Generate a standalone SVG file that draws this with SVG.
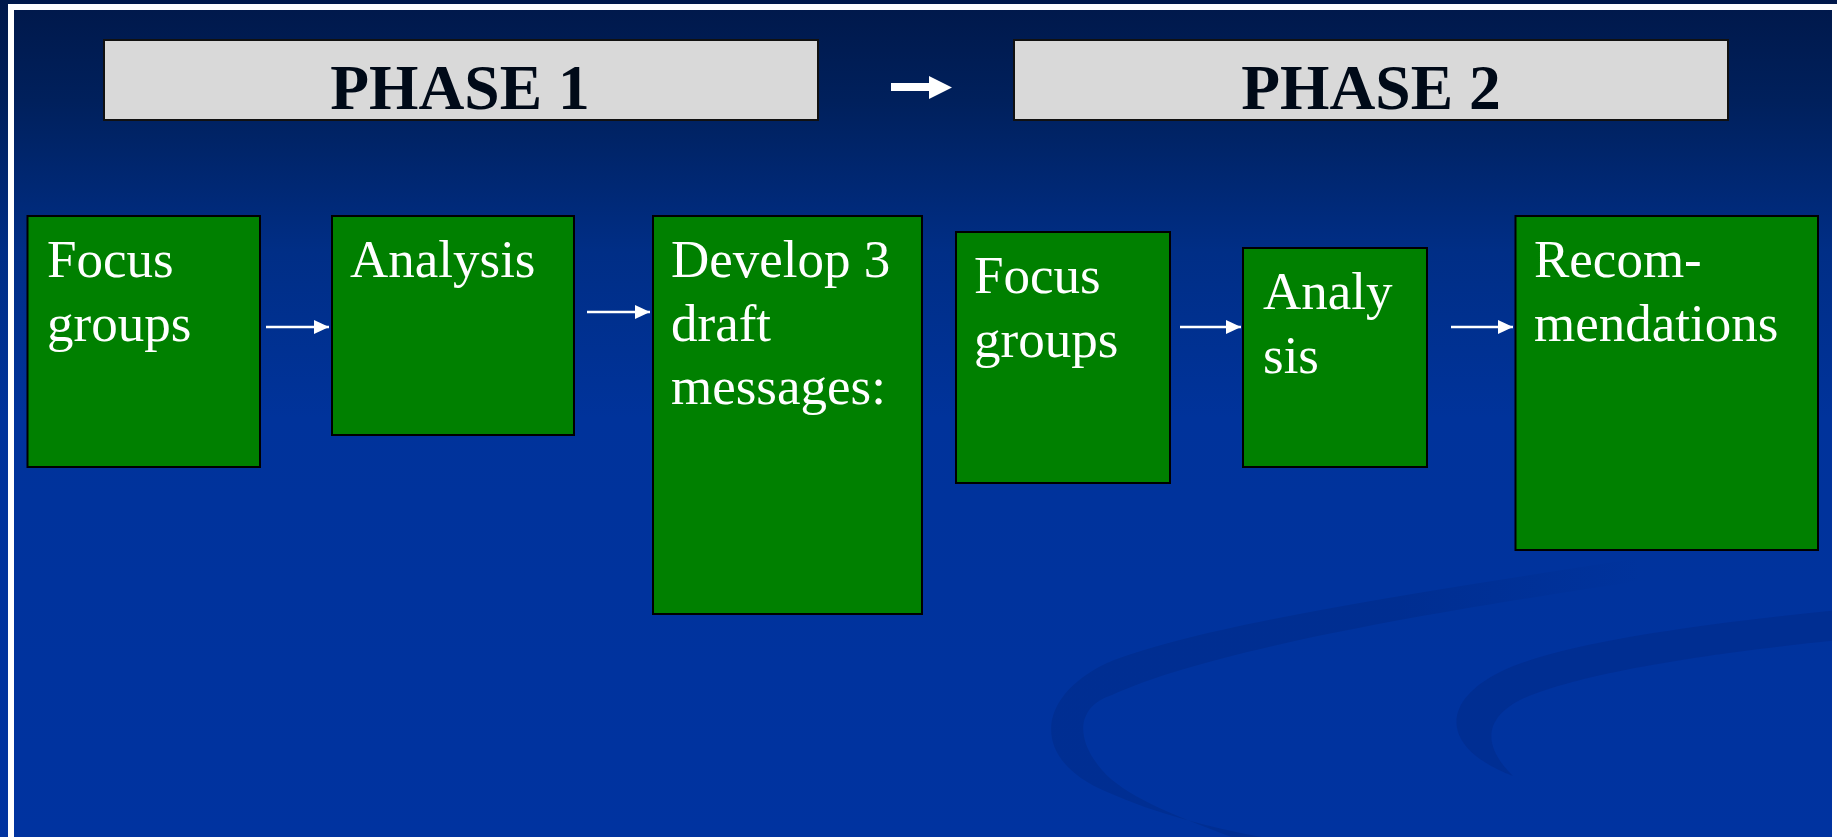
<svg xmlns="http://www.w3.org/2000/svg" width="1837" height="837" viewBox="0 0 1837 837">
<defs>
<linearGradient id="bg" x1="0" y1="0" x2="0" y2="1">
<stop offset="0" stop-color="#00184a"/>
<stop offset="0.12" stop-color="#00205c"/>
<stop offset="0.3" stop-color="#002e86"/>
<stop offset="0.5" stop-color="#00339b"/>
<stop offset="1" stop-color="#0033a0"/>
</linearGradient>
<linearGradient id="sw1" gradientUnits="userSpaceOnUse" x1="1400" y1="0" x2="1640" y2="0">
<stop offset="0" stop-color="#002a88" stop-opacity="0.55"/>
<stop offset="1" stop-color="#002a88" stop-opacity="0"/>
</linearGradient>
<marker id="ah" markerUnits="userSpaceOnUse" markerWidth="16" markerHeight="15" refX="15" refY="7" orient="auto">
<path d="M0,0 L15,7 L0,14 Z" fill="#ffffff"/>
</marker>
<style>
.phase rect{fill:#d9d9d9;stroke:#111111;stroke-width:2}
.phase text{font-family:"Liberation Serif","Times New Roman",serif;font-weight:bold;font-size:63.5px;fill:#000a18;text-anchor:middle}
.node rect{fill:#008000;stroke:#000000;stroke-width:2}
.node text{font-family:"Liberation Serif","Times New Roman",serif;font-size:53px;fill:#ffffff}
.conn line{stroke:#ffffff;stroke-width:2.5;marker-end:url(#ah)}
.swoosh{fill:#002a88;opacity:0.55}
</style>
</defs>
<rect x="0" y="0" width="1837" height="837" fill="url(#bg)"/>
<path fill="url(#sw1)" d="M1660,555 C1420,592 1200,625 1107,663 C1035,697 1030,760 1107,792 C1165,818 1230,832 1290,842 L1245,842 C1180,818 1125,797 1102,770 C1072,735 1080,705 1112,695 C1210,650 1430,612 1660,578 Z"/>
<path class="swoosh" d="M1840,610 C1700,624 1560,643 1500,672 C1440,702 1440,748 1513,776 C1488,752 1478,722 1520,700 C1580,672 1720,652 1840,640 Z"/>
<rect x="11" y="7" width="1824" height="850" fill="none" stroke="#ffffff" stroke-width="6"/>
<g id="phase1" class="phase">
<rect x="104" y="40" width="714" height="80"/>
<text x="460" y="109">PHASE 1</text>
</g>
<g id="phase2" class="phase">
<rect x="1014" y="40" width="714" height="80"/>
<text x="1371" y="109">PHASE 2</text>
</g>
<g id="n1" class="node">
<rect x="27.5" y="216" width="232.5" height="251"/>
<text x="47" y="277">Focus</text>
<text x="47" y="340.5">groups</text>
</g>
<g id="n2" class="node">
<rect x="332" y="216" width="242" height="219"/>
<text x="350" y="277">Analysis</text>
</g>
<g id="n3" class="node">
<rect x="653" y="216" width="269" height="398"/>
<text x="671" y="277">Develop 3</text>
<text x="671" y="340.5">draft</text>
<text x="671" y="404">messages:</text>
</g>
<g id="n4" class="node">
<rect x="956" y="232" width="214" height="251"/>
<text x="974" y="293">Focus</text>
<text x="974" y="356.5">groups</text>
</g>
<g id="n5" class="node">
<rect x="1243" y="248" width="184" height="219"/>
<text x="1263" y="309">Analy</text>
<text x="1263" y="372.5">sis</text>
</g>
<g id="n6" class="node">
<rect x="1515.5" y="216" width="302.5" height="334"/>
<text x="1534" y="277">Recom-</text>
<text x="1534" y="340.5">mendations</text>
</g>
<g id="connectors" class="conn">
<polygon points="891,83 929,83 929,76 952,87.5 929,99 929,91 891,91" fill="#ffffff"/>
<line x1="266" y1="327" x2="329" y2="327"/>
<line x1="587" y1="312" x2="650" y2="312"/>
<line x1="1180" y1="327" x2="1241" y2="327"/>
<line x1="1451" y1="327" x2="1513" y2="327"/>
</g>
</svg>
